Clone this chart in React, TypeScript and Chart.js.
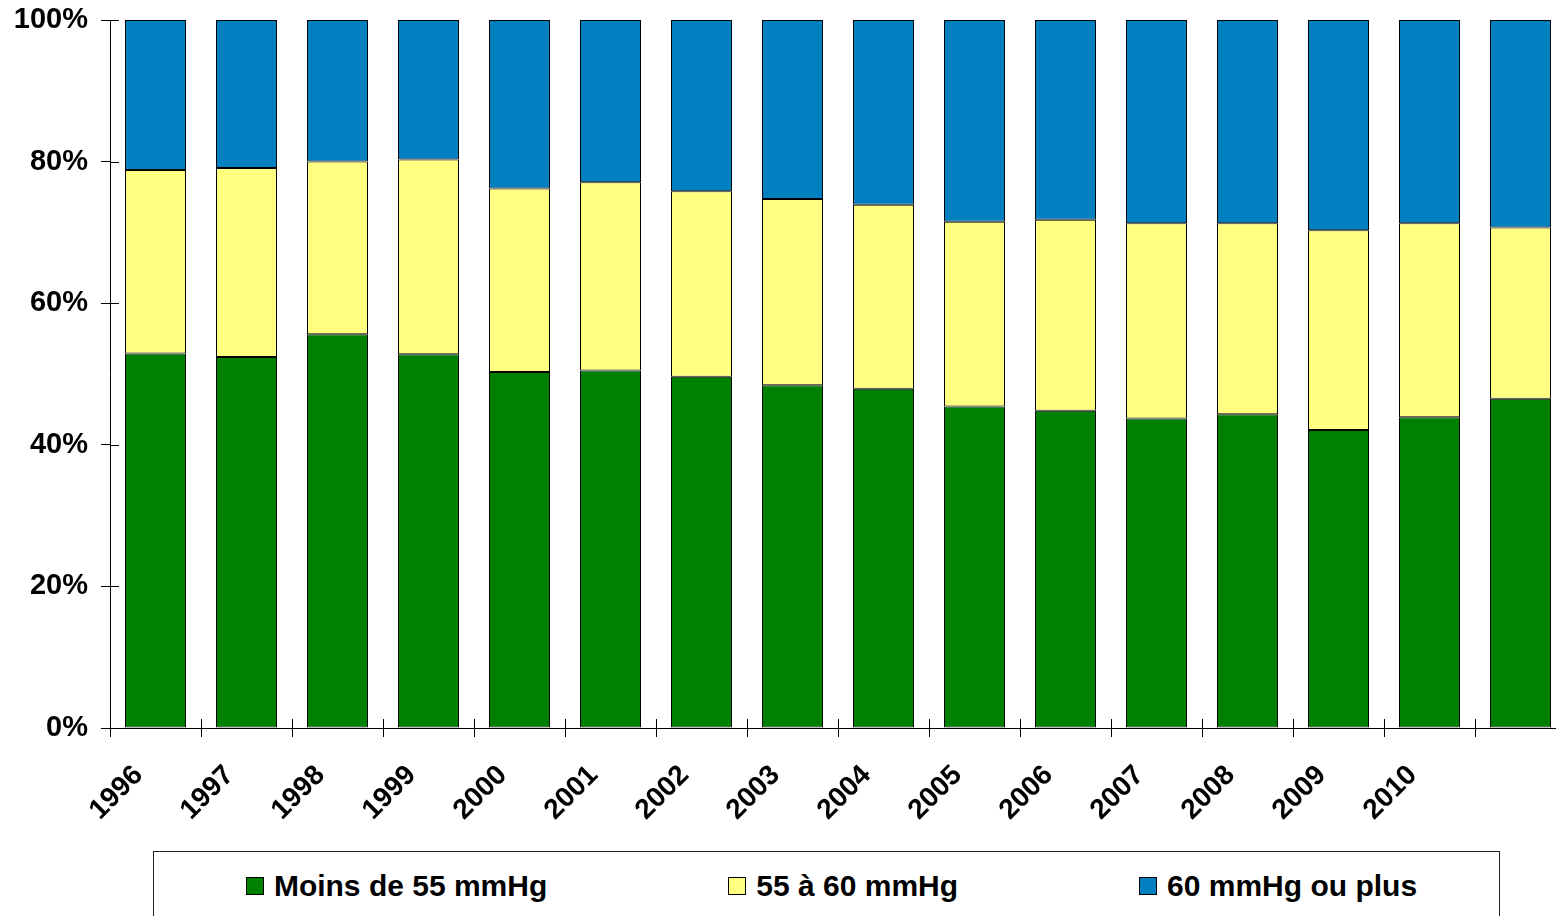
import React, { useEffect, useRef } from "react";
import { Chart, registerables } from "chart.js";

Chart.register(...registerables);

const categories = ["1996", "1997", "1998", "1999", "2000", "2001", "2002", "2003", "2004", "2005", "2006", "2007", "2008", "2009", "2010", ""];
const seriesNames = ["Moins de 55 mmHg", "55 à 60 mmHg", "60 mmHg ou plus"];
const below55 = [52.9, 52.4, 55.6, 52.8, 50.3, 50.5, 49.6, 48.4, 47.9, 45.4, 44.8, 43.7, 44.3, 42.1, 43.9, 46.5];
const from55to60 = [25.9, 26.7, 24.4, 27.5, 25.9, 26.6, 26.2, 26.3, 26.0, 26.1, 27.0, 27.6, 27.0, 28.2, 27.4, 24.2];
const above60 = [21.2, 20.9, 20.0, 19.7, 23.8, 22.9, 24.2, 25.3, 26.1, 28.5, 28.2, 28.7, 28.7, 29.7, 28.7, 29.3];
const yTickValues = [0, 20, 40, 60, 80, 100];

const colors = ["#008000", "#FFFF80", "#0080C0"];
const FONT = "'Liberation Sans', Arial, sans-serif";

const crossTicks = {
  id: "crossTicks",
  afterDraw(chart: any) {
    const { ctx, chartArea, scales } = chart;
    ctx.save();
    ctx.strokeStyle = "#000";
    ctx.lineWidth = 1;
    const y = scales.y;
    y.ticks.forEach((_: any, i: number) => {
      const py = Math.round(y.getPixelForTick(i)) + 0.5;
      ctx.beginPath();
      ctx.moveTo(chartArea.left, py);
      ctx.lineTo(chartArea.left + 9, py);
      ctx.stroke();
    });
    const x = scales.x;
    const n = categories.length;
    for (let i = 0; i <= n; i++) {
      const px = Math.round(x.getPixelForValue(i - 0.5)) + 0.5;
      ctx.beginPath();
      ctx.moveTo(px, chartArea.bottom);
      ctx.lineTo(px, chartArea.bottom - 9);
      ctx.stroke();
    }
    ctx.restore();
  },
};

export default function App() {
  const ref = useRef<HTMLCanvasElement | null>(null);

  useEffect(() => {
    if (!ref.current) return;
    const data = [below55, from55to60, above60];
    const chart = new Chart(ref.current, {
      type: "bar",
      data: {
        labels: categories,
        datasets: data.map((d, i) => ({
          label: seriesNames[i],
          data: d,
          backgroundColor: colors[i],
          borderColor: "#000",
          borderWidth: 1,
          borderSkipped: false,
          barPercentage: 0.67,
          categoryPercentage: 1,
        })),
      },
      options: {
        responsive: false,
        animation: false,
        devicePixelRatio: 1,
        layout: { padding: { top: 20, left: 0, right: 4, bottom: 0 } },
        plugins: {
          legend: { display: false },
          tooltip: { enabled: false },
          title: { display: false },
        },
        scales: {
          x: {
            stacked: true,
            grid: {
              display: true,
              drawOnChartArea: false,
              drawTicks: true,
              tickLength: 9,
              color: "#000",
              offset: true,
            },
            border: { display: true, color: "#000", width: 1 },
            ticks: {
              autoSkip: false,
              maxRotation: 45,
              minRotation: 45,
              labelOffset: -17,
              padding: 22,
              color: "#000",
              font: { family: FONT, size: 28, weight: "bold" },
            },
            afterFit(scale: any) {
              scale.height = 122;
              scale.paddingLeft = 0;
              scale.paddingRight = 0;
            },
          },
          y: {
            stacked: true,
            min: 0,
            max: 100,
            afterBuildTicks(scale: any) {
              scale.ticks = yTickValues.map((v) => ({ value: v }));
            },
            grid: {
              display: true,
              drawOnChartArea: false,
              drawTicks: true,
              tickLength: 9,
              color: "#000",
            },
            border: { display: true, color: "#000", width: 1 },
            ticks: {
              padding: 13,
              color: "#000",
              font: { family: FONT, size: 29, weight: "bold" },
              callback: (v: any) => v + "%",
            },
            afterFit(scale: any) {
              scale.width = 110;
              scale.paddingTop = 0;
              scale.paddingBottom = 0;
            },
          },
        },
      },
      plugins: [crossTicks],
    });
    return () => chart.destroy();
  }, []);

  return (
    <div
      style={{
        position: "fixed",
        left: 0,
        top: 0,
        width: 1556,
        height: 916,
        overflow: "hidden",
        background: "#fff",
      }}
    >
      <canvas
        ref={ref}
        width={1570}
        height={850}
        style={{ position: "absolute", left: 0, top: 0, width: 1570, height: 850 }}
      />
      <div
        style={{
          position: "absolute",
          left: 153,
          top: 851,
          width: 1347,
          height: 90,
          border: "1.5px solid #222",
          boxSizing: "border-box",
        }}
      />
      <div
        style={{
          position: "absolute",
          left: 157,
          top: 870,
          width: 1349,
          height: 32,
          display: "flex",
          justifyContent: "center",
          alignItems: "center",
          gap: 181,
          fontFamily: FONT,
          fontWeight: "bold",
          fontSize: 30,
          color: "#000",
          whiteSpace: "nowrap",
        }}
      >
        {seriesNames.map((name, i) => (
          <div key={name} style={{ display: "flex", alignItems: "center" }}>
            <span
              style={{
                display: "inline-block",
                width: 18,
                height: 18,
                boxSizing: "border-box",
                border: "1.5px solid #000",
                background: colors[i],
                marginRight: 10,
              }}
            />
            <span style={{ lineHeight: "32px" }}>{name}</span>
          </div>
        ))}
      </div>
    </div>
  );
}
